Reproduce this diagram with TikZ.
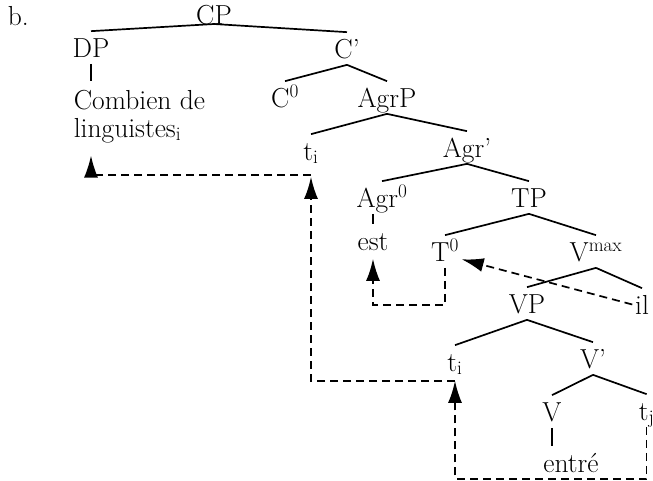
\documentclass[tikz,border=0pt]{standalone}
\usepackage{fontspec}
\setmainfont{Latin Modern Roman}
\usetikzlibrary{arrows.meta}

\begin{document}
\begin{tikzpicture}[x=1pt, y=-1pt, line width=1.7pt, font=\fontsize{27.5}{28}\selectfont,
  lbl/.style={anchor=base, inner sep=2pt, text height=23pt, text depth=4pt},
  move/.style={dash pattern=on 8pt off 5pt, -{Latex[length=22pt,width=14pt]}}]
\useasboundingbox (0,0) rectangle (653,480);

\node[anchor=base west, inner sep=0pt] (item) at (7,25) {b.};

% the tree
\node[lbl] (cp) at (214,24) {CP};
\node[lbl] (dp) at (91,57) {DP};
\node[lbl] (cbar) at (347,58) {C'};
\node[anchor=north west, align=left, inner sep=2pt] (comb) at (71,87) {Combien de\\linguistes\textsubscript{i}};
\node[lbl] (czero) at (285,107) {C\textsuperscript{0}};
\node[lbl] (agrp) at (387,107) {AgrP};
\node[lbl] (tia) at (311,160) {t\textsubscript{i}};
\node[lbl] (agrbar) at (467,157) {Agr'};
\node[lbl] (agrzero) at (382,207) {Agr\textsuperscript{0}};
\node[lbl] (est) at (373,250) {est};
\node[lbl] (tp) at (529,207) {TP};
\node[lbl] (tzero) at (445,261) {T\textsuperscript{0}};
\node[lbl] (vmax) at (596,261) {V\textsuperscript{max}};
\node[lbl] (il) at (642,314) {il};
\node[lbl] (vp) at (527,313) {VP};
\node[lbl] (tib) at (455,371) {t\textsubscript{i}};
\node[lbl] (vbar) at (593,368) {V'};
\node[lbl] (v) at (552,421) {V};
\node[lbl] (entre) at (571,472) {entré};
\node[lbl, anchor=base west] (tj) at (636,420) {t\textsubscript{j}};

\draw (cp.base) -- (dp.north);
\draw (cp.base) -- (cbar.north);
\draw[shorten >=6pt] (dp.south) -- (dp.south |- comb.north);
\draw (cbar.south) -- (czero.north);
\draw (cbar.south) -- (agrp.north);
\draw (agrp.south) -- (tia.north);
\draw (agrp.south) -- (agrbar.north);
\draw (agrbar.south) -- (agrzero.north);
\draw (agrbar.south) -- (tp.north);
\draw (est.north |- agrzero.south) -- (est.north);
\draw (tp.south) -- (tzero.north);
\draw (tp.south) -- (vmax.north);
\draw (vmax.south) -- (vp.north);
\draw (vmax.south) -- (il.north);
\draw (vp.south) -- (tib.north);
\draw (vp.south) -- (vbar.north);
\draw (vbar.south) -- (v.north);
\draw (vbar.south) -- (tj.north);
\draw (v.south) -- (v.south |- entre.north);

% movement
\draw[move, shorten >=10pt] ([yshift=-3pt]tib.south) -| (tia.south);
\draw[move, shorten >=10pt] ([yshift=-8pt]tia.south) -| (dp |- comb.south);
\draw[move, shorten >=3pt] (tj.south) |- (entre.south) -| (tib.south);
\draw[move, shorten >=2pt] (tzero.south) -- ++(0,37) -| (est.south);
\draw[move] (il.west) -- (tzero.-25);
\end{tikzpicture}
\end{document}
